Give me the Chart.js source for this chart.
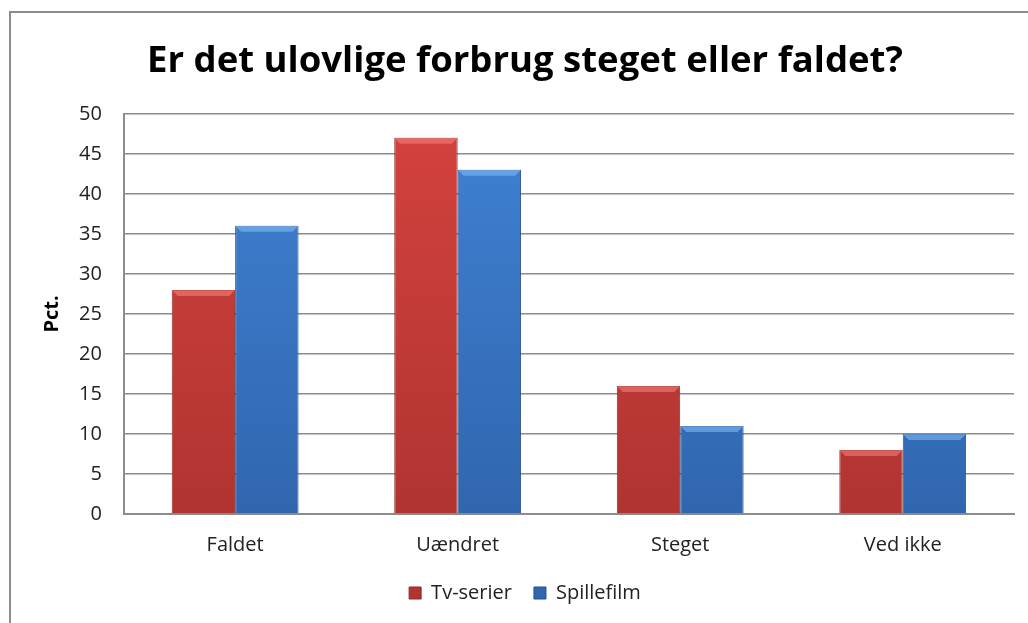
<!DOCTYPE html>
<html>
<head>
<meta charset="utf-8">
<script src="https://cdn.jsdelivr.net/npm/chart.js@4"></script>
<style>
  html, body { margin: 0; padding: 0; background: #fff; }
  #wrap { width: 1028px; height: 623px; position: relative; }
</style>
</head>
<body>
<div id="wrap"><canvas id="myChart" width="1028" height="623"></canvas></div>
<script>
const categories = ["Faldet", "Uændret", "Steget", "Ved ikke"];
const tvSerier = [28, 47, 16, 8];
const spillefilm = [36, 43, 11, 10];
const yTicks = [0, 5, 10, 15, 20, 25, 30, 35, 40, 45, 50];

const font = "'Open Sans', 'Liberation Sans', sans-serif";
const legendGap = 22; // space between legend items
const legendTrim = 15; // take back the extra height that gap adds

// vertical shading like the old office bevel bars
function shade(top, bottom) {
  return (ctx) => {
    const area = ctx.chart.chartArea;
    if (!area) return top;
    const g = ctx.chart.ctx.createLinearGradient(0, area.top, 0, area.bottom);
    g.addColorStop(0, top);
    g.addColorStop(1, bottom);
    return g;
  };
}

// outer frame (only left and top are visible in the picture)
const frame = {
  id: "frame",
  beforeDraw(chart) {
    const c = chart.ctx;
    c.save();
    c.strokeStyle = "#8c8c8c";
    c.lineWidth = 2;
    c.strokeRect(10, 12, 1100, 700);
    c.restore();
  },
};

// wide legend spacing without making the legend box taller
const legendSpacing = {
  id: "legendSpacing",
  beforeLayout(chart) {
    const lg = chart.legend;
    if (!lg || lg._patched) return;
    const fit = lg.fit;
    lg.fit = function () {
      fit.call(this);
      this.height -= legendTrim;
    };
    lg._patched = true;
  },
  afterLayout(chart) {
    const lg = chart.legend;
    if (!lg) return;
    // move the top up so the items sit where they did, keep the bottom so nothing is clipped
    lg.top -= legendTrim;
    lg.height += legendTrim;
  },
};

// light bevel on the top edge of each bar
const bevel = {
  id: "bevel",
  afterDatasetsDraw(chart) {
    const c = chart.ctx;
    chart.data.datasets.forEach((ds, i) => {
      const col = i === 0 ? "rgba(255,140,130,0.5)" : "rgba(140,200,255,0.5)";
      chart.getDatasetMeta(i).data.forEach((bar) => {
        const w = bar.width, x0 = bar.x - w / 2;
        c.save();
        c.fillStyle = col;
        c.beginPath();
        c.moveTo(x0, bar.y);
        c.lineTo(x0 + w, bar.y);
        c.lineTo(x0 + w - 6, bar.y + 6);
        c.lineTo(x0 + 6, bar.y + 6);
        c.closePath();
        c.fill();
        c.restore();
      });
    });
  },
};

new Chart(document.getElementById("myChart"), {
  type: "bar",
  data: {
    labels: categories,
    datasets: [
      {
        label: "Tv-serier",
        data: tvSerier,
        backgroundColor: shade("#d4423e", "#b03431"),
        borderColor: "#8e2a27",
        borderWidth: 1,
        categoryPercentage: 0.57,
        barPercentage: 1,
      },
      {
        label: "Spillefilm",
        data: spillefilm,
        backgroundColor: shade("#4082d4", "#3066ae"),
        borderColor: "#24508c",
        borderWidth: 1,
        categoryPercentage: 0.57,
        barPercentage: 1,
      },
    ],
  },
  options: {
    responsive: false,
    animation: false,
    layout: {
      padding: { left: 36, right: 14, top: 26, bottom: 10 },
    },
    plugins: {
      title: {
        display: true,
        text: "Er det ulovlige forbrug steget eller faldet?",
        color: "#000",
        font: { family: font, size: 36.5, weight: "bold" },
        padding: { top: 14, bottom: 30 },
      },
      legend: {
        position: "bottom",
        labels: {
          color: "#222",
          font: { family: font, size: 20 },
          boxWidth: 12,
          boxHeight: 12,
          padding: legendGap,
        },
      },
      tooltip: { enabled: false },
    },
    scales: {
      x: {
        grid: { display: false, drawTicks: false },
        border: { color: "#8c8c8c", width: 2 },
        ticks: { color: "#222", font: { family: font, size: 20 }, padding: 19 },
      },
      y: {
        min: 0,
        max: 50,
        afterBuildTicks(axis) {
          axis.ticks = yTicks.map((v) => ({ value: v }));
        },
        grid: { color: "#8c8c8c", lineWidth: 1.5, drawTicks: false },
        border: { color: "#8c8c8c", width: 2 },
        ticks: { color: "#222", font: { family: font, size: 20 }, padding: 22 },
        title: {
          display: true,
          text: "Pct.",
          color: "#000",
          font: { family: font, size: 20, weight: "bold" },
          padding: { top: 4, bottom: -7 },
        },
      },
    },
  },
  plugins: [frame, legendSpacing, bevel],
});
</script>
</body>
</html>
